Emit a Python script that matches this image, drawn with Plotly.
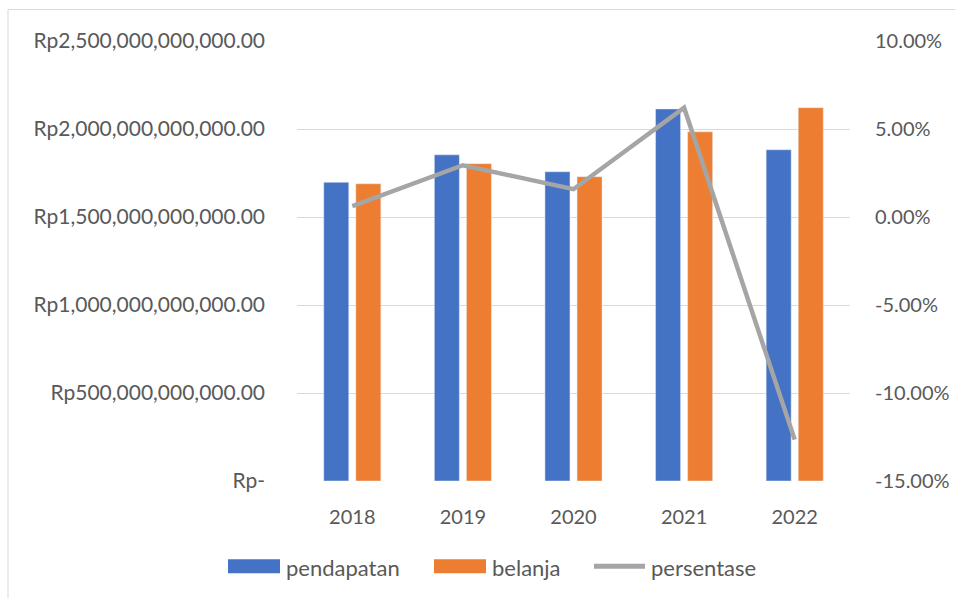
import plotly.graph_objects as go

years = ["2018", "2019", "2020", "2021", "2022"]
pendapatan = [1.697e12, 1.853e12, 1.757e12, 2.114e12, 1.882e12]
belanja = [1.689e12, 1.803e12, 1.729e12, 1.984e12, 2.121e12]
persentase = [0.62, 2.94, 1.58, 6.21, -12.65]

left_tickvals = [0, 0.5e12, 1.0e12, 1.5e12, 2.0e12, 2.5e12]
left_ticktext = ["Rp-", "Rp500,000,000,000.00", "Rp1,000,000,000,000.00",
                 "Rp1,500,000,000,000.00", "Rp2,000,000,000,000.00", "Rp2,500,000,000,000.00"]
right_tickvals = [-15, -10, -5, 0, 5, 10]
right_ticktext = ["-15.00%", "-10.00%", "-5.00%", "0.00%", "5.00%", "10.00%"]

BLUE = "#4472c4"
ORANGE = "#ed7d31"
GREY = "#a5a5a5"
TXT = "#595959"
FONT = "Lato"

fig = go.Figure()
fig.add_trace(go.Bar(x=years, y=pendapatan, name="pendapatan", marker_color=BLUE, yaxis="y"))
fig.add_trace(go.Bar(x=years, y=belanja, name="belanja", marker_color=ORANGE, yaxis="y"))
fig.add_trace(go.Scatter(x=years, y=persentase, name="persentase", mode="lines",
                         line=dict(color=GREY, width=4.5), yaxis="y2"))

W, H = 955, 598
L, R, T, B = 297, 105, 40.5, 116.5
pw, ph = W - L - R, H - T - B

def px(x):
    return (x - L) / pw

def py(y):
    return (H - B - y) / ph

shapes = [
    dict(type="rect", xref="paper", yref="paper", x0=px(8), x1=px(962), y0=py(9), y1=py(605),
         line=dict(color="#d9d9d9", width=1), fillcolor="rgba(0,0,0,0)", layer="below"),
]
annotations = []
legend_items = [
    ("pendapatan", BLUE, "rect", 228, 280),
    ("belanja", ORANGE, "rect", 434, 486),
    ("persentase", GREY, "line", 594, 645),
]
ly = 567
for name, col, kind, x0, x1 in legend_items:
    if kind == "rect":
        shapes.append(dict(type="rect", xref="paper", yref="paper", x0=px(x0), x1=px(x1),
                           y0=py(ly + 7), y1=py(ly - 7), fillcolor=col, line=dict(width=0)))
    else:
        shapes.append(dict(type="line", xref="paper", yref="paper", x0=px(x0), x1=px(x1),
                           y0=py(ly), y1=py(ly), line=dict(color=col, width=5)))
    annotations.append(dict(text=name, xref="paper", yref="paper", x=px(x1 + 4), y=py(ly + 1),
                            xanchor="left", yanchor="middle", showarrow=False,
                            font=dict(family=FONT, size=22, color=TXT)))

fig.update_layout(
    width=W, height=H,
    margin=dict(l=L, r=R, t=T, b=B, autoexpand=False),
    paper_bgcolor="white", plot_bgcolor="white",
    barmode="group", bargap=0.42, bargroupgap=0.22,
    showlegend=False,
    font=dict(family=FONT, size=20, color=TXT),
    xaxis=dict(showgrid=False, showline=False, ticks="", ticklabelstandoff=22,
               tickfont=dict(family=FONT, size=20, color=TXT)),
    yaxis=dict(range=[0, 2.5e12], tickvals=left_tickvals, ticktext=left_ticktext,
               showgrid=True, gridcolor="#d9d9d9", gridwidth=1.3, zeroline=False,
               showline=False, ticks="", ticklabelstandoff=31,
               tickfont=dict(family=FONT, size=21, color=TXT)),
    yaxis2=dict(range=[-15, 10], tickvals=right_tickvals, ticktext=right_ticktext,
                overlaying="y", side="right", showgrid=False, zeroline=False,
                showline=False, ticks="", ticklabelstandoff=24,
                tickfont=dict(family=FONT, size=20, color=TXT)),
    shapes=shapes,
    annotations=annotations,
)

fig.write_html("out.html", post_script="document.body.style.margin='0';",
               config={"displayModeBar": False})
